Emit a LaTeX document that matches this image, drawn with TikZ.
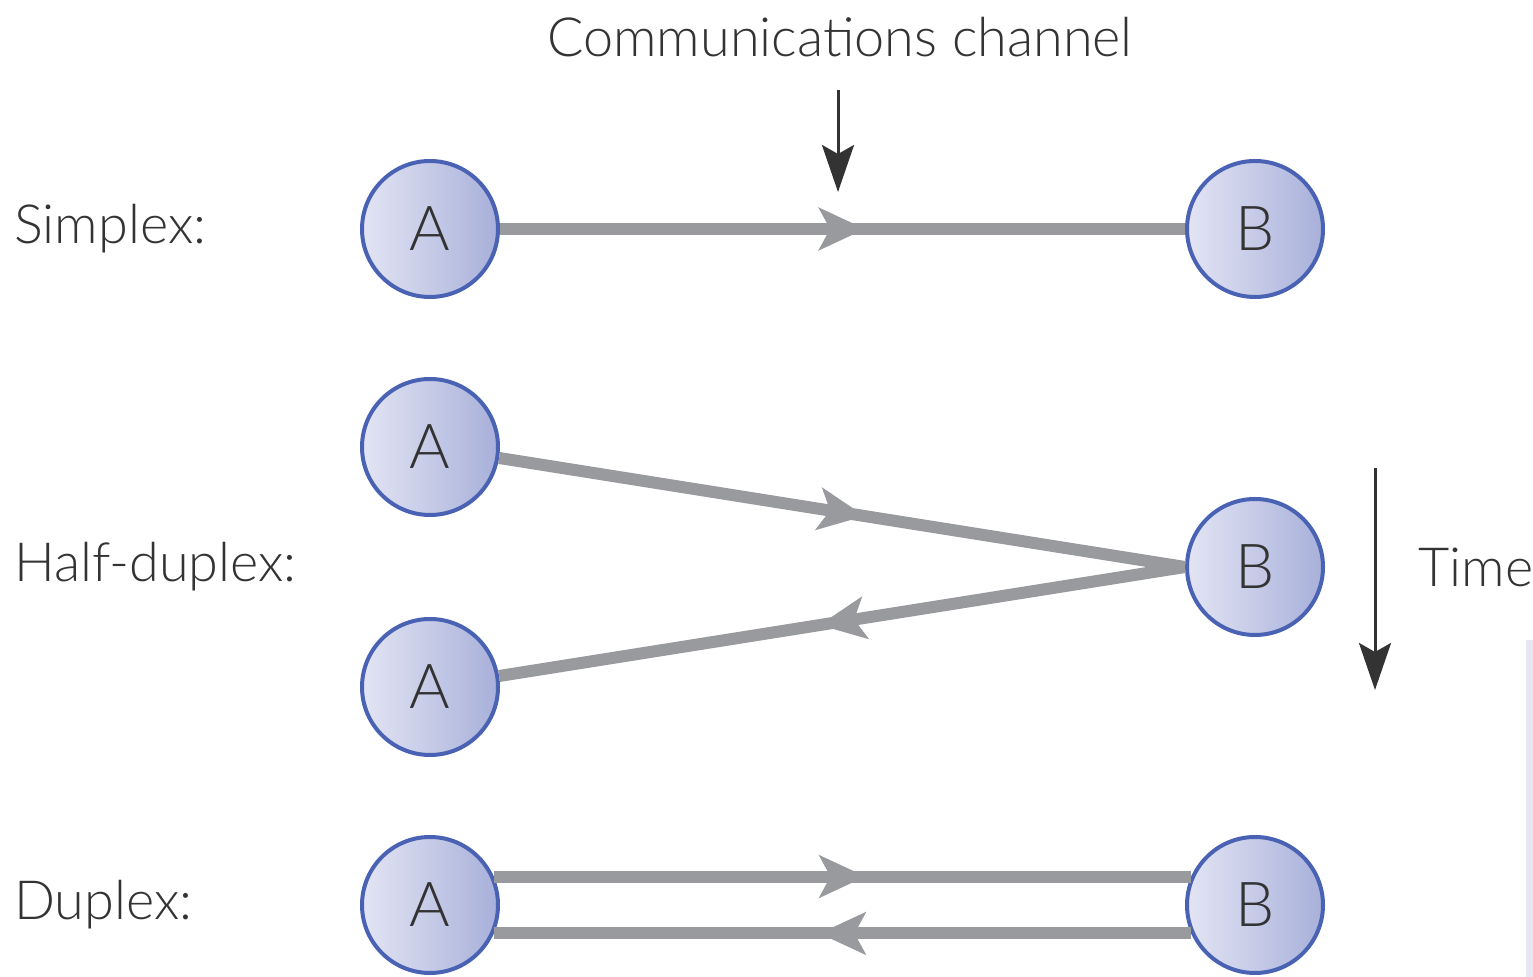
\documentclass[tikz,border=0pt]{standalone}
\usepackage{fontspec}
\setmainfont{Lato Light}
\usetikzlibrary{arrows.meta,decorations.markings,calc}

\definecolor{ringblue}{HTML}{4A62B4}
\definecolor{fillL}{HTML}{E3E5F4}
\definecolor{fillR}{HTML}{A8B0DA}
\definecolor{chgray}{HTML}{999A9E}
\definecolor{ink}{HTML}{333333}
\definecolor{edgetint}{HTML}{E6E7F3}

\tikzset{
  station/.style={circle, draw=ringblue, line width=2pt, minimum size=68pt,
    inner sep=0pt, left color=fillL, right color=fillR, text=ink,
    font=\fontsize{31}{31}\selectfont},
  lbl/.style={text=ink, inner sep=0pt, font=\fontsize{27}{27}\selectfont},
  rowlabel/.style={lbl, anchor=west},
  channel/.style={draw=chgray, line width=6pt,
    postaction={decorate, decoration={markings,
      mark=at position 0.533 with {\arrow[chgray]{Stealth[length=23pt,width=21pt,inset=5.5pt]}}}}},
  pointer/.style={draw=ink, line width=1.5pt,
    -{Stealth[length=23.5pt,width=16pt,inset=4.5pt]}}
}

\begin{document}
\begin{tikzpicture}[x=0.5pt, y=-0.5pt]
  \useasboundingbox (0,0) rectangle (1533,977);

  % faint tint along the lower right edge
  \fill[edgetint] (1526,640) rectangle (1533,977);

  % headings and row labels
  \node[lbl] (cc) at (840,37) {Communications channel};
  \node[rowlabel] (ls) at (14,229) {Simplex:};
  \node[rowlabel] (lh) at (14,567) {Half-duplex:};
  \node[rowlabel] (ld) at (14,905) {Duplex:};
  \node[rowlabel] (time) at (1418,567) {Time};

  % stations
  \node[station] (As) at (430,229) {A};
  \node[station] (Bs) at (1255,229) {B};
  \node[station] (Ah1) at (430,447) {A};
  \node[station] (Ah2) at (430,687) {A};
  \node[station] (Bh) at (1255,567) {B};
  \node[station] (Ad) at (430,905) {A};
  \node[station] (Bd) at (1255,905) {B};

  % simplex
  \path[channel] (As) -- (Bs);
  % half-duplex
  \path[channel] (Ah1) -- (Bh.west);
  \path[channel] (Bh.west) -- (Ah2);
  % duplex
  \path[channel] (Ad.24) -- (Bd.156);
  \path[channel] (Bd.-156) -- (Ad.-24);

  % pointers
  \coordinate (cctop) at (838,90);
  \coordinate (ccend) at (838,192);
  \draw[pointer] (cctop) -- (ccend);
  \coordinate (ttop) at (1375,468);
  \coordinate (tend) at (1375,690);
  \draw[pointer] (ttop) -- (tend);
\end{tikzpicture}
\end{document}
